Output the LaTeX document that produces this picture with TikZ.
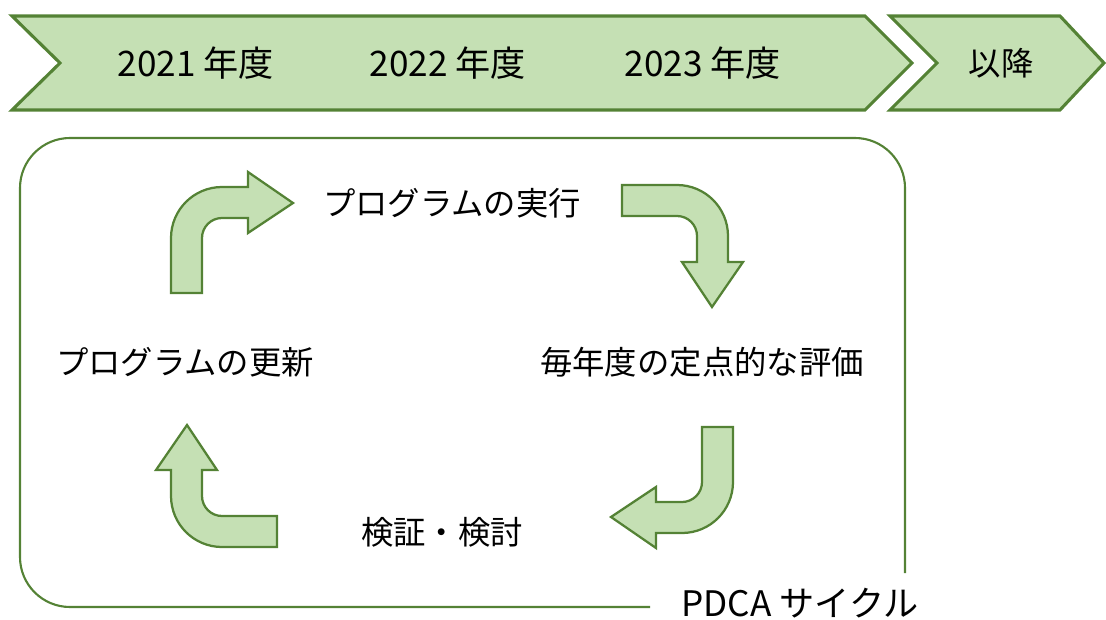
\documentclass[tikz,border=0pt]{standalone}
\usepackage{fontspec}
\usepackage{xcolor}
\usepackage{tikz}
\newfontfamily\jpfont{Noto Sans CJK JP}
\definecolor{leafgreen}{HTML}{C5E0B4}
\definecolor{darkgreen}{HTML}{548235}

\tikzset{
    phase/.style={fill=leafgreen, draw=darkgreen, line width=2.2pt},
    arrowshape/.style={fill=leafgreen, draw=darkgreen, line width=1.6pt, line join=miter},
    label/.style={font=\jpfont\fontsize{23}{27}\selectfont, inner sep=0pt},
    biglabel/.style={font=\jpfont\fontsize{25}{29}\selectfont, inner sep=0pt}
}

% bent arrow, outer corner at (#1,#2), turned by #3
\newcommand{\bentarrow}[3]{%
    \begin{scope}[shift={(#1,#2)}, rotate=#3]
        \draw[arrowshape] (0,106) -- (0,51) arc[start angle=180, end angle=270, radius=51]
            -- (77,0) -- (77,-15) -- (122,16) -- (77,46) -- (77,31) -- (51,31)
            arc[start angle=270, end angle=180, radius=20] -- (31,106) -- cycle;
    \end{scope}}

\begin{document}
\begin{tikzpicture}[x=0.025cm, y=-0.025cm]
    \useasboundingbox (0,0) rectangle (1106,619);

    % Timeline chevrons
    \draw[phase] (12,16) -- (865,16) -- (912,63) -- (865,110) -- (12,110) -- (60,63) -- cycle;
    \draw[phase] (890,16) -- (1060,16) -- (1104,63) -- (1060,110) -- (890,110) -- (937,63) -- cycle;

    % Years
    \node[biglabel] (y2021) at (196,63) {2021 年度};
    \node[biglabel] (y2022) at (448,63) {2022 年度};
    \node[biglabel] (y2023) at (703,63) {2023 年度};
    \node[label] (later) at (1001,63) {以降};

    % Cycle frame, open at the bottom right
    \draw[darkgreen, line width=1.5pt, rounded corners=1.25cm]
        (650,607) -- (20,607) -- (20,138) -- (905,138) -- (905,573);
    \node[biglabel] (pdca) at (800,603) {PDCA サイクル};

    % Cycle steps
    \node[label] (run) at (452,203) {プログラムの実行};
    \node[label] (review) at (702,362) {毎年度の定点的な評価};
    \node[label] (check) at (442,532) {検証・検討};
    \node[label] (update) at (185,362) {プログラムの更新};

    % Turning arrows
    \bentarrow{171}{187}{0}
    \bentarrow{728}{185}{-90}
    \bentarrow{733}{533}{180}
    \bentarrow{171}{547}{90}
\end{tikzpicture}
\end{document}
